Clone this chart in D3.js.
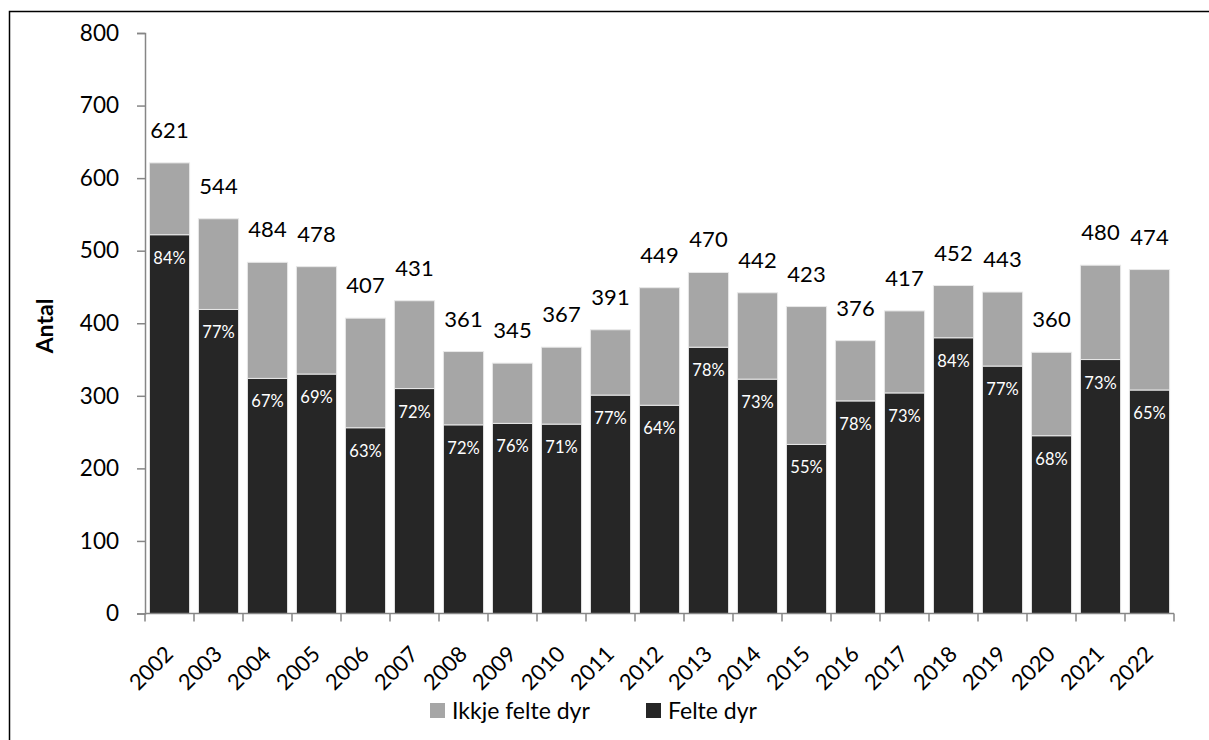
<!DOCTYPE html>
<html>
<head>
<meta charset="utf-8">
<script src="https://cdn.jsdelivr.net/npm/d3@7"></script>
<style>
  body { margin: 0; background: #fff; }
  text { font-family: Lato, "Open Sans", sans-serif; }
</style>
</head>
<body>
<div id="chart"></div>
<script>
// data
var years = ["2002","2003","2004","2005","2006","2007","2008","2009","2010","2011",
             "2012","2013","2014","2015","2016","2017","2018","2019","2020","2021","2022"];
var felte = [522, 419, 324, 330, 256, 310, 260, 262, 261, 301,
             287, 367, 323, 233, 293, 304, 380, 341, 245, 350, 308];
var ikkje = [99, 125, 160, 148, 151, 121, 101, 83, 106, 90,
             162, 103, 119, 190, 83, 113, 72, 102, 115, 130, 166];
var yTicks = [0, 100, 200, 300, 400, 500, 600, 700, 800];

var width = 1209, height = 740;
var plot = { left: 145, right: 1174, top: 33, bottom: 613.5 };

var svg = d3.select("#chart")
  .append("svg")
    .attr("width", width)
    .attr("height", height);

// outer frame (runs off the right and bottom edge)
svg.append("rect")
  .attr("x", 9.5)
  .attr("y", 11.5)
  .attr("width", 1400)
  .attr("height", 900)
  .attr("fill", "none")
  .attr("stroke", "#000")
  .attr("stroke-width", 1.5);

var table = years.map((y, i) => ({ year: y, felte: felte[i], ikkje: ikkje[i] }));
var stack = d3.stack().keys(["felte", "ikkje"])(table);

var x = d3.scaleBand()
  .domain(years)
  .range([plot.left, plot.right])
  .paddingInner(0.18)
  .paddingOuter(0.09);

var y = d3.scaleLinear()
  .domain([0, 800])
  .range([plot.bottom, plot.top]);

var colors = { felte: "#262626", ikkje: "#a6a6a6" };

// bars
svg.append("g")
  .selectAll("g")
  .data(stack)
  .enter()
    .append("g")
    .attr("fill", d => colors[d.key])
  .selectAll("rect")
  .data(d => d)
  .enter()
    .append("rect")
    .attr("x", d => x(d.data.year))
    .attr("y", d => y(d[1]))
    .attr("height", d => y(d[0]) - y(d[1]))
    .attr("width", x.bandwidth())
    .attr("stroke", "#e8e8e8")
    .attr("stroke-width", 1);

// Y axis
var yAxis = svg.append("g")
  .attr("transform", "translate(" + plot.left + ",0)")
  .call(d3.axisLeft(y)
    .tickValues(yTicks)
    .tickSize(8)
    .tickPadding(18));
yAxis.select(".domain").attr("stroke", "#868686").attr("stroke-width", 1.5);
yAxis.selectAll(".tick line").attr("stroke", "#868686").attr("stroke-width", 1.5);
yAxis.selectAll(".tick text")
  .attr("font-size", 22.5)
  .attr("fill", "#000")
  .style("font-family", "Lato, sans-serif");

// X axis line + ticks at category boundaries
svg.append("line")
  .attr("x1", plot.left).attr("x2", plot.right)
  .attr("y1", plot.bottom).attr("y2", plot.bottom)
  .attr("stroke", "#868686").attr("stroke-width", 1.5);

var step = x.step();
svg.append("g")
  .selectAll("line")
  .data(d3.range(years.length + 1))
  .enter()
    .append("line")
    .attr("x1", i => plot.left + i * step)
    .attr("x2", i => plot.left + i * step)
    .attr("y1", plot.bottom)
    .attr("y2", plot.bottom + 8)
    .attr("stroke", "#868686")
    .attr("stroke-width", 1.5);

// X labels, rotated
svg.append("g")
  .selectAll("text")
  .data(years)
  .enter()
    .append("text")
    .attr("transform", d => "translate(" + (x(d) + x.bandwidth() / 2 + 5) + "," + (plot.bottom + 42) + ") rotate(-45)")
    .attr("text-anchor", "end")
    .attr("font-size", 22)
    .text(d => d);

// total labels above the bars
svg.append("g")
  .selectAll("text")
  .data(table)
  .enter()
    .append("text")
    .attr("x", d => x(d.year) + x.bandwidth() / 2)
    .attr("y", d => y(d.felte + d.ikkje) - 25)
    .attr("text-anchor", "middle")
    .attr("font-size", 22)
    .attr("fill", "#000")
    .text(d => d.felte + d.ikkje);

// share of felte dyr inside the dark bars
svg.append("g")
  .selectAll("text")
  .data(table)
  .enter()
    .append("text")
    .attr("x", d => x(d.year) + x.bandwidth() / 2)
    .attr("y", d => y(d.felte) + 29)
    .attr("text-anchor", "middle")
    .attr("font-size", 16.5)
    .attr("fill", "#fff")
    .text(d => Math.round(100 * d.felte / (d.felte + d.ikkje)) + "%");

// axis title
svg.append("text")
  .attr("transform", "translate(53,326) rotate(-90)")
  .attr("text-anchor", "middle")
  .attr("font-size", 23)
  .attr("font-weight", "bold")
  .text("Antal");

// legend
var legend = [
  { name: "Ikkje felte dyr", color: colors.ikkje, x: 430 },
  { name: "Felte dyr", color: colors.felte, x: 646 }
];
var lg = svg.append("g")
  .selectAll("g")
  .data(legend)
  .enter()
    .append("g")
    .attr("transform", d => "translate(" + d.x + ",703)");
lg.append("rect")
  .attr("width", 15)
  .attr("height", 15)
  .attr("fill", d => d.color);
lg.append("text")
  .attr("x", 22)
  .attr("y", 16)
  .attr("font-size", 23)
  .text(d => d.name);
</script>
</body>
</html>
